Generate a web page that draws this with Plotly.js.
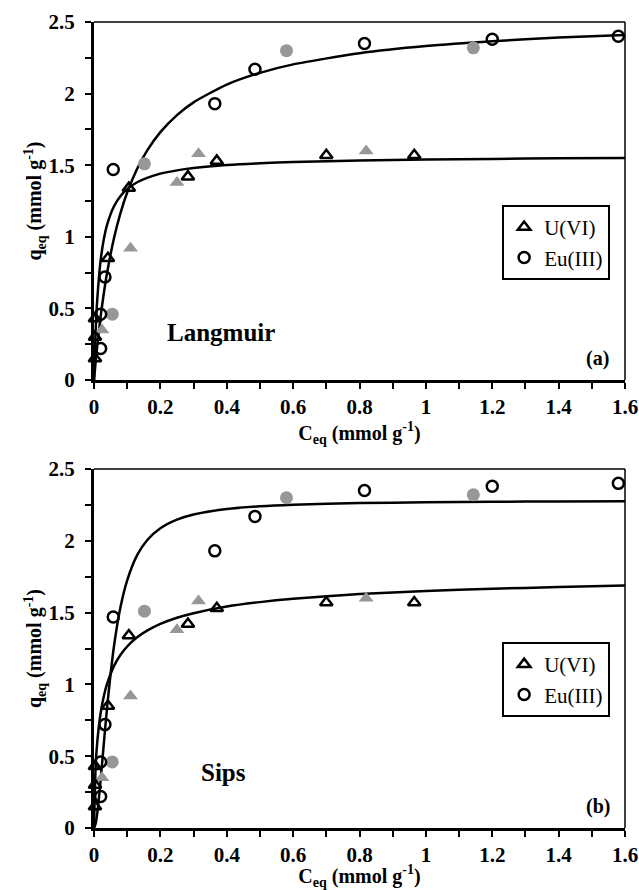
<!DOCTYPE html>
<html>
<head>
<meta charset="utf-8">
<script src="https://cdn.plot.ly/plotly-3.0.1.min.js"></script>
<style>html,body{margin:0;padding:0;background:#fff;}#chart{width:639px;height:890px;}</style>
</head>
<body>
<div id="chart"></div>
<script>
// ---- experimental data (same in both panels) ----
const uOpenX = [0.003, 0.003, 0.003, 0.042, 0.105, 0.283, 0.37, 0.70, 0.965];
const uOpenY = [0.15, 0.30, 0.43, 0.85, 1.34, 1.42, 1.53, 1.57, 1.57];
const uGrayX = [0.024, 0.11, 0.25, 0.315, 0.82];
const uGrayY = [0.35, 0.92, 1.38, 1.58, 1.60];
const euOpenX = [0.02, 0.02, 0.033, 0.058, 0.364, 0.485, 0.815, 1.20, 1.58];
const euOpenY = [0.22, 0.46, 0.72, 1.47, 1.93, 2.17, 2.35, 2.38, 2.40];
const euGrayX = [0.055, 0.152, 0.58, 1.143];
const euGrayY = [0.46, 1.51, 2.30, 2.32];

// ---- fitted curves ----
const fitX = [0, 0.005, 0.01, 0.02, 0.03, 0.04, 0.06, 0.08, 0.1, 0.13, 0.16, 0.2, 0.25, 0.3, 0.4, 0.5, 0.6, 0.8, 1.0, 1.2, 1.4, 1.6];
const langU = [0, 0.348, 0.569, 0.835, 0.989, 1.089, 1.212, 1.285, 1.333, 1.381, 1.412, 1.441, 1.464, 1.480, 1.501, 1.514, 1.522, 1.533, 1.540, 1.544, 1.548, 1.550];
const langEu = [0, 0.128, 0.243, 0.444, 0.613, 0.756, 0.988, 1.167, 1.309, 1.475, 1.602, 1.731, 1.850, 1.939, 2.063, 2.145, 2.204, 2.282, 2.332, 2.366, 2.391, 2.410];
const sipsU = [0, 0.433, 0.603, 0.801, 0.923, 1.009, 1.127, 1.206, 1.264, 1.328, 1.374, 1.421, 1.464, 1.496, 1.542, 1.573, 1.596, 1.629, 1.650, 1.666, 1.678, 1.688];
const sipsEu = [0, 0.032, 0.107, 0.334, 0.599, 0.853, 1.262, 1.540, 1.725, 1.900, 2.004, 2.087, 2.147, 2.183, 2.221, 2.240, 2.251, 2.263, 2.268, 2.272, 2.274, 2.275];

const seriesNames = ['U(VI)', 'Eu(III)'];
const panelLabels = ['(a)', '(b)'];
const modelNames = ['Langmuir', 'Sips'];

const serif = 'Liberation Serif';
const gray = '#979797';

function panel(xa, ya, lg, curveU, curveEu) {
  const common = {xaxis: xa, yaxis: ya, cliponaxis: false};
  return [
    Object.assign({x: fitX, y: curveU, mode: 'lines', line: {color: '#000', width: 2.5, shape: 'spline', smoothing: 0.6}, showlegend: false, hoverinfo: 'skip'}, common),
    Object.assign({x: fitX, y: curveEu, mode: 'lines', line: {color: '#000', width: 2.5, shape: 'spline', smoothing: 0.6}, showlegend: false, hoverinfo: 'skip'}, common),
    Object.assign({x: uGrayX, y: uGrayY, mode: 'markers', marker: {symbol: 'triangle-up', size: 13, color: gray, line: {width: 0}}, showlegend: false}, common),
    Object.assign({x: euGrayX, y: euGrayY, mode: 'markers', marker: {symbol: 'circle', size: 13, color: gray, line: {width: 0}}, showlegend: false}, common),
    Object.assign({x: uOpenX, y: uOpenY, mode: 'markers', name: seriesNames[0], legend: lg, marker: {symbol: 'triangle-up-open', size: 11, color: '#000', line: {width: 2.5, color: '#000'}}}, common),
    Object.assign({x: euOpenX, y: euOpenY, mode: 'markers', name: seriesNames[1], legend: lg, marker: {symbol: 'circle-open', size: 11, color: '#000', line: {width: 2.5, color: '#000'}}}, common)
  ];
}

const data = [].concat(
  panel('x', 'y', 'legend', langU, langEu),
  panel('x2', 'y2', 'legend2', sipsU, sipsEu)
);

const tickFont = {family: serif, size: 21, color: '#000', weight: 'bold'};
const titleFont = {family: serif, size: 20, color: '#000', weight: 'bold'};

function xAxis(anchor) {
  return {
    anchor: anchor, domain: [0, 1], range: [0, 1.6], dtick: 0.2, tick0: 0,
    showgrid: false, zeroline: false, showline: true, linecolor: '#000', linewidth: 3,
    ticks: 'outside', ticklen: 6, tickwidth: 2, tickcolor: '#000', tickfont: tickFont,
    minor: {dtick: 0.1, ticks: 'outside', ticklen: 6, tickwidth: 2, tickcolor: '#000', showgrid: false},
    title: {text: 'C<sub>eq</sub> (mmol g<sup>-1</sup>)', font: titleFont, standoff: 7},
    automargin: false
  };
}
function yAxis(anchor, dom) {
  return {
    anchor: anchor, domain: dom, range: [0, 2.5], dtick: 0.5, tick0: 0,
    showgrid: false, zeroline: false, showline: true, linecolor: '#000', linewidth: 3,
    ticks: 'outside', ticklen: 6, tickwidth: 2, tickcolor: '#000', tickfont: tickFont,
    minor: {dtick: 0.25, ticks: 'outside', ticklen: 6, tickwidth: 2, tickcolor: '#000', showgrid: false},
    ticklabelstandoff: 6,
    title: {text: 'q<sub>eq</sub> (mmol g<sup>-1</sup>)', font: titleFont, standoff: 0},
    automargin: false
  };
}

const legendBase = {
  xanchor: 'right', yanchor: 'top', x: 0.972,
  bgcolor: '#fff', bordercolor: '#000', borderwidth: 2,
  font: {family: serif, size: 21, color: '#000'},
  itemwidth: 30, tracegroupgap: 0
};

function frame(xr, yr) {
  return [
    {type: 'line', xref: xr + ' domain', yref: yr + ' domain', x0: 0, x1: 1, y0: 1, y1: 1, line: {color: '#000', width: 1.5}},
    {type: 'line', xref: xr + ' domain', yref: yr + ' domain', x0: 1, x1: 1, y0: 0, y1: 1, line: {color: '#000', width: 1.5}}
  ];
}

const layout = {
  width: 639, height: 890,
  margin: {l: 94, r: 14, t: 22, b: 62},
  paper_bgcolor: '#fff', plot_bgcolor: '#fff',
  font: {family: serif, color: '#000'},
  showlegend: true,
  xaxis: xAxis('y'),
  yaxis: yAxis('x', [0.5558, 1]),
  xaxis2: xAxis('y2'),
  yaxis2: yAxis('x2', [0, 0.4454]),
  legend: Object.assign({}, legendBase, {y: 0.773}),
  legend2: Object.assign({}, legendBase, {y: 0.2308}),
  shapes: [].concat(frame('x', 'y'), frame('x2', 'y2')),
  annotations: [
    {xref: 'x', yref: 'y', x: 0.383, y: 0.33, text: modelNames[0], showarrow: false, font: {family: serif, size: 25, color: '#000', weight: 'bold'}},
    {xref: 'x2', yref: 'y2', x: 0.389, y: 0.383, text: modelNames[1], showarrow: false, font: {family: serif, size: 25, color: '#000', weight: 'bold'}},
    {xref: 'x', yref: 'y', x: 1.518, y: 0.147, text: panelLabels[0], showarrow: false, font: {family: serif, size: 20, color: '#000', weight: 'bold'}},
    {xref: 'x2', yref: 'y2', x: 1.518, y: 0.153, text: panelLabels[1], showarrow: false, font: {family: serif, size: 20, color: '#000', weight: 'bold'}}
  ]
};

Plotly.newPlot('chart', data, layout, {displayModeBar: false, staticPlot: true});
</script>
</body>
</html>
